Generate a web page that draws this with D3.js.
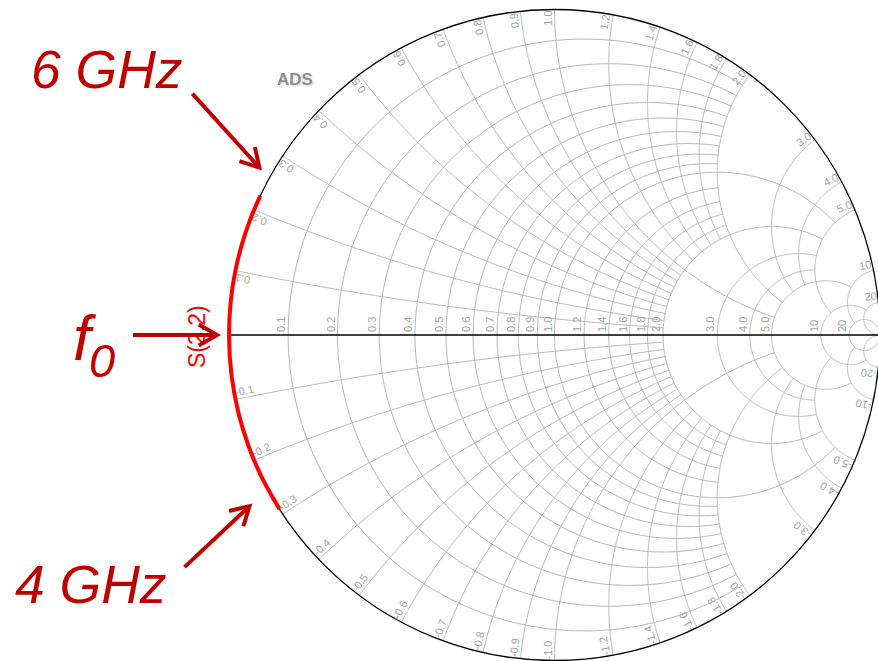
<!DOCTYPE html>
<html>
<head>
<meta charset="utf-8">
<script src="https://cdn.jsdelivr.net/npm/d3@7/dist/d3.min.js"></script>
<style>
  html, body { margin: 0; padding: 0; background: #ffffff; }
  svg { display: block; }
</style>
</head>
<body>
<svg id="chart" width="878" height="661"></svg>
<script>
// ---- Smith chart grid values (normalized impedance) ----
// Each group of circles/arcs is cut where it meets the circle/arc of its limit value.
const gridValuesFine   = [0.1, 0.2, 0.3, 0.4, 0.5, 0.6, 0.7, 0.8, 0.9, 1.2, 1.4, 1.6, 1.8];
const gridValuesMid    = [1.0, 2.0];
const gridValuesCoarse = [3.0, 4.0];
const gridValuesOuter  = [5.0];
const gridValuesFar    = [10];
const gridValuesEdge   = [20];
const gridLimits       = [2, 5, 5, 10, 20, Infinity];

// ---- Tick labels ----
const resistanceTicks  = [0.1, 0.2, 0.3, 0.4, 0.5, 0.6, 0.7, 0.8, 0.9, 1.0, 1.2, 1.4, 1.6, 1.8, 2.0, 3.0, 4.0, 5.0, 10, 20];
const resistanceLabels = ["0.1","0.2","0.3","0.4","0.5","0.6","0.7","0.8","0.9","1.0","1.2","1.4","1.6","1.8","2.0","3.0","4.0","5.0","10","20"];
const reactanceTicks   = [0.1, 0.2, 0.3, 0.4, 0.5, 0.6, 0.7, 0.8, 0.9, 1.0, 1.2, 1.4, 1.6, 1.8, 2.0, 3.0, 4.0, 5.0, 10, 20,
                          -0.1, -0.2, -0.3, -0.4, -0.5, -0.6, -0.7, -0.8, -0.9, -1.0, -1.2, -1.4, -1.6, -1.8, -2.0, -3.0, -4.0, -5.0, -10, -20];
const reactanceLabels  = ["0.1","0.2","0.3","0.4","0.5","0.6","0.7","0.8","0.9","1.0","1.2","1.4","1.6","1.8","2.0","3.0","4.0","5.0","10","20",
                          "-0.1","-0.2","-0.3","-0.4","-0.5","-0.6","-0.7","-0.8","-0.9","-1.0","-1.2","-1.4","-1.6","-1.8","-2.0","-3.0","-4.0","-5.0","-10","-20"];

// ---- S(2,2) trace: lossless termination, normalized reactance vs frequency ----
const freqGHz        = [4.0, 4.2, 4.4, 4.6, 4.8, 5.0, 5.2, 5.4, 5.6, 5.8, 6.0];
const s22Resistance  = [0, 0, 0, 0, 0, 0, 0, 0, 0, 0, 0];
const s22Reactance   = [-0.29, -0.23, -0.175, -0.12, -0.06, 0.0, 0.05, 0.095, 0.14, 0.185, 0.225];

// ---- Layout ----
const cx = 554.5, cy = 335, R = 325.5;
const svg = d3.select("#chart");
const sx = d3.scaleLinear().domain([-1, 1]).range([cx - R, cx + R]);
const sy = d3.scaleLinear().domain([-1, 1]).range([cy + R, cy - R]);
const line = d3.line().x(d => sx(d[0])).y(d => sy(d[1]));
const FONT = "'Liberation Sans', Arial, Helvetica, sans-serif";

// reflection coefficient of z = r + jx
function gamma(r, x) {
  const d = (r + 1) * (r + 1) + x * x;
  return [(r * r - 1 + x * x) / d, 2 * x / d];
}

// constant-resistance circle, kept where |x| <= xLimit
function resistancePoints(r, xLimit) {
  const c = r / (1 + r), rho = 1 / (1 + r);
  let a0 = 0, a1 = 2 * Math.PI;
  if (isFinite(xLimit)) {
    const p = gamma(r, xLimit);
    a0 = Math.atan2(p[1], p[0] - c);
    a1 = 2 * Math.PI - a0;
  }
  const n = 360;
  return d3.range(n + 1).map(i => {
    const a = a0 + (a1 - a0) * i / n;
    return [c + rho * Math.cos(a), rho * Math.sin(a)];
  });
}

// constant-reactance arc from the rim (r = 0) to r = rLimit
function reactancePoints(x, rLimit) {
  const ax = Math.abs(x), k = 1 / ax;
  const p0 = gamma(0, ax);
  const p1 = isFinite(rLimit) ? gamma(rLimit, ax) : [1, 0];
  const a0 = Math.atan2(p0[1] - k, p0[0] - 1);
  let a1 = Math.atan2(p1[1] - k, p1[0] - 1);
  if (a1 < a0) a1 += 2 * Math.PI;
  const n = 300, s = x < 0 ? -1 : 1;
  return d3.range(n + 1).map(i => {
    const a = a0 + (a1 - a0) * i / n;
    return [1 + k * Math.cos(a), s * (k + k * Math.sin(a))];
  });
}

// ---- Grid ----
const groups = [gridValuesFine, gridValuesMid, gridValuesCoarse, gridValuesOuter, gridValuesFar, gridValuesEdge];
const gridG = svg.append("g").attr("fill", "none").attr("stroke", "#b6b6b6").attr("stroke-width", 1);
groups.forEach((vals, gi) => {
  const lim = gridLimits[gi];
  vals.forEach(v => {
    gridG.append("path").attr("d", line(resistancePoints(v, lim)));
    gridG.append("path").attr("d", line(reactancePoints(v, lim)));
    gridG.append("path").attr("d", line(reactancePoints(-v, lim)));
  });
});

// ---- Rim and real axis ----
svg.append("circle").attr("cx", sx(0)).attr("cy", sy(0)).attr("r", sx(1) - sx(0))
  .attr("fill", "none").attr("stroke", "#000").attr("stroke-width", 1.3);
svg.append("line").attr("x1", sx(-1)).attr("x2", sx(1)).attr("y1", sy(0)).attr("y2", sy(0))
  .attr("stroke", "#000").attr("stroke-width", 1.3);

// ---- Labels ----
const labelG = svg.append("g").attr("font-family", FONT).attr("font-size", 11).attr("fill", "#a4a4a4");
resistanceTicks.forEach((v, i) => {
  const p = gamma(v, 0);
  labelG.append("text")
    .attr("transform", `translate(${sx(p[0])},${sy(0)}) rotate(-90)`)
    .attr("x", 3).attr("y", -3)
    .text(resistanceLabels[i]);
});
reactanceTicks.forEach((v, i) => {
  const p = gamma(0, v);
  const px = sx(p[0]), py = sy(p[1]);
  let ang, anchor, dx;
  if (v > 0) {           // upper half: read outward along the arc
    ang = Math.atan2(-p[1], p[0]) * 180 / Math.PI;
    anchor = "end"; dx = -1;
  } else {               // lower half: read inward along the arc
    ang = Math.atan2(p[1], -p[0]) * 180 / Math.PI;
    anchor = "start"; dx = 1;
  }
  labelG.append("text")
    .attr("transform", `translate(${px},${py}) rotate(${ang})`)
    .attr("x", dx).attr("y", -3)
    .attr("text-anchor", anchor)
    .text(reactanceLabels[i]);
});

// ---- ADS watermark ----
const defs = svg.append("defs");
defs.append("filter").attr("id", "soft").attr("x", "-20%").attr("y", "-40%").attr("width", "140%").attr("height", "180%")
  .append("feGaussianBlur").attr("stdDeviation", 0.9);
defs.append("filter").attr("id", "softer")
  .append("feGaussianBlur").attr("stdDeviation", 0.45);
svg.append("text").attr("x", 278).attr("y", 86).attr("font-family", FONT).attr("font-weight", "bold")
  .attr("font-size", 17).attr("fill", "#d4d4d4").attr("filter", "url(#soft)").text("ADS");
svg.append("text").attr("x", 277).attr("y", 85).attr("font-family", FONT).attr("font-weight", "bold")
  .attr("font-size", 17).attr("fill", "#8e8e8e").attr("filter", "url(#softer)").text("ADS");

// ---- S(2,2) trace ----
const tracePts = freqGHz.map((f, i) => gamma(s22Resistance[i], s22Reactance[i]));
svg.append("path")
  .attr("d", d3.line().x(d => sx(d[0])).y(d => sy(d[1])).curve(d3.curveCatmullRom)(tracePts))
  .attr("fill", "none").attr("stroke", "#ff0000").attr("stroke-width", 4);

svg.append("text")
  .attr("transform", `translate(${sx(-1) - 24},${sy(0) + 33}) rotate(-90)`)
  .attr("font-family", FONT).attr("font-size", 23).attr("fill", "#ff0000")
  .text("S(2,2)");

// ---- Annotations ----
const annoColor = "#c00000";
const annoG = svg.append("g").attr("fill", annoColor).attr("font-family", FONT).attr("font-style", "italic");
annoG.append("text").attr("x", 31).attr("y", 88).attr("font-size", 53.5).text("6 GHz");
annoG.append("text").attr("x", 15).attr("y", 603).attr("font-size", 53.5).text("4 GHz");
annoG.append("text").attr("x", 73).attr("y", 360).attr("font-size", 63).text("f");
annoG.append("text").attr("x", 89).attr("y", 377).attr("font-size", 47).text("0");

const iStart = 0, iMid = freqGHz.indexOf(5.0), iEnd = freqGHz.length - 1;
const pt = i => [sx(tracePts[i][0]), sy(tracePts[i][1])];
// arrow from tail to tip with an open V head
function arrow(tip, tail) {
  const g = svg.append("g").attr("stroke", annoColor).attr("stroke-width", 4)
    .attr("fill", "none").attr("stroke-linecap", "butt").attr("stroke-linejoin", "miter");
  const ang = Math.atan2(tip[1] - tail[1], tip[0] - tail[0]);
  const L = 21, spread = 0.52;
  const h1 = [tip[0] - L * Math.cos(ang - spread), tip[1] - L * Math.sin(ang - spread)];
  const h2 = [tip[0] - L * Math.cos(ang + spread), tip[1] - L * Math.sin(ang + spread)];
  g.append("line").attr("x1", tail[0]).attr("y1", tail[1]).attr("x2", tip[0]).attr("y2", tip[1]);
  g.append("path").attr("d", `M${h1[0]},${h1[1]} L${tip[0]},${tip[1]} L${h2[0]},${h2[1]}`);
}
{
  const p6 = pt(iEnd), p4 = pt(iStart), p0 = pt(iMid);
  const t6 = [p6[0] - 1, p6[1] - 28];
  arrow(t6, [t6[0] - 67, t6[1] - 74]);
  const t4 = [p4[0] - 30, p4[1] - 3];
  arrow(t4, [t4[0] - 65, t4[1] + 61]);
  const t0 = [p0[0] - 12, p0[1]];
  arrow(t0, [t0[0] - 84, t0[1]]);
}
</script>
</body>
</html>
